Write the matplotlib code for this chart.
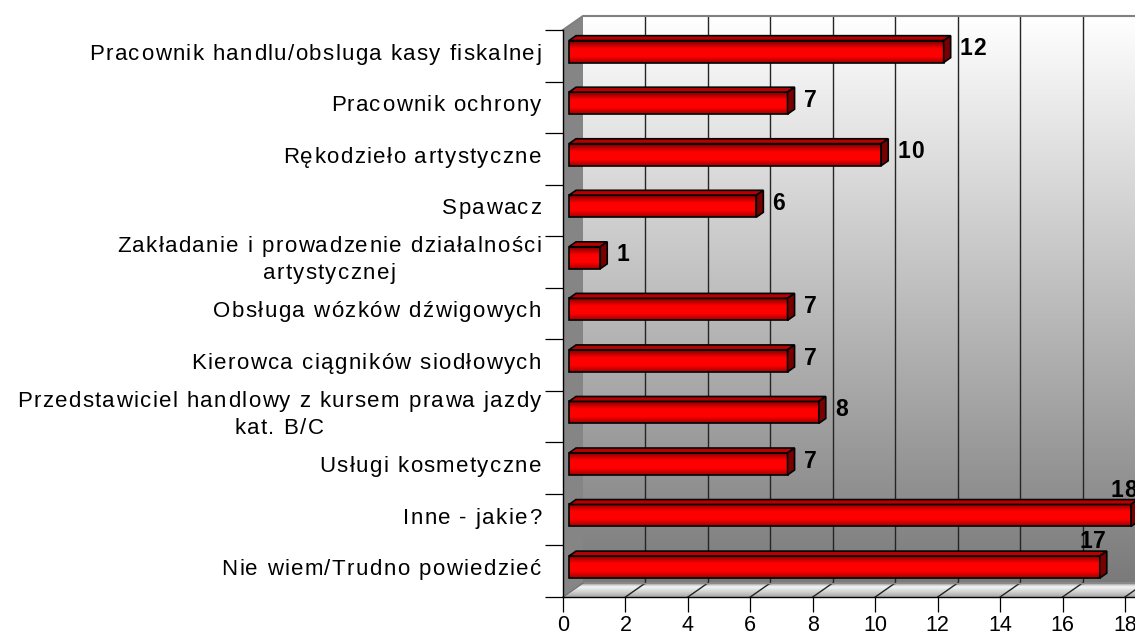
import numpy as np
import matplotlib
matplotlib.use('Agg')
import matplotlib.pyplot as plt
from matplotlib.colors import LinearSegmentedColormap
from matplotlib.patches import Polygon
from matplotlib.collections import PolyCollection
from matplotlib.transforms import offset_copy
from matplotlib.font_manager import FontProperties, findfont, get_font

FONT = 'Liberation Sans'
plt.rcParams['font.family'] = FONT

categories = [
    'Pracownik handlu/obsluga kasy fiskalnej',
    'Pracownik ochrony',
    'Rękodzieło artystyczne',
    'Spawacz',
    'Zakładanie i prowadzenie działalności\nartystycznej',
    'Obsługa wózków dźwigowych',
    'Kierowca ciągników siodłowych',
    'Przedstawiciel handlowy z kursem prawa jazdy\nkat. B/C',
    'Usługi kosmetyczne',
    'Inne - jakie?',
    'Nie wiem/Trudno powiedzieć',
]
values = [12, 7, 10, 6, 1, 7, 7, 8, 7, 18, 17]
xticks = list(range(0, 19, 2))

W, H, DPI = 1135, 639, 100
fig = plt.figure(figsize=(W / DPI, H / DPI), dpi=DPI)
fig.patch.set_facecolor('white')
ax = fig.add_axes([563 / W, 42 / H, 562 / W, 567 / H])
n = len(categories)
xmax = xticks[-1]
ax.set_xlim(0, xmax)
ax.set_ylim(n, 0)
ax.set_autoscale_on(False)
ax.patch.set_visible(False)

# pixel size of one data unit, used to turn the 3d depth into data offsets
ux = ax.bbox.width / xmax
uy = ax.bbox.height / n
dd = np.array([20 / ux, -14 / uy])


def shift(pts, f):
    return [(x + f * dd[0], y + f * dd[1]) for x, y in pts]


grad = np.linspace(0, 1, 256).reshape(-1, 1)

# back wall
wall_cmap = LinearSegmentedColormap.from_list('wall', ['#ffffff', '#7a7a7a'])
ax.imshow(grad, cmap=wall_cmap, extent=(dd[0], xmax + dd[0], n + dd[1], dd[1]),
          origin='upper', aspect='auto', interpolation='bilinear', zorder=0, clip_on=False)

# side wall
ax.add_patch(Polygon([(0, 0), (0, n), (dd[0], n + dd[1]), (dd[0], dd[1])],
                     closed=True, fc='#858585', ec='none', zorder=0.5, clip_on=False))

# floor, drawn as thin strips going from the back edge to the front edge
floor_cmap = LinearSegmentedColormap.from_list(
    'floor', [(0, '#9c9c9c'), (0.3, '#f4f4f4'), (0.65, '#d2d2d2'), (1, '#a8a8a8')])
steps = 16
strips, cols = [], []
for k in range(steps):
    t0, t1 = k / steps, (k + 1) / steps
    y0, y1 = n + dd[1] * (1 - t0), n + dd[1] * (1 - t1)
    strips.append([(dd[0] * (1 - t0), y0), (xmax + dd[0] * (1 - t0) + 1, y0),
                   (xmax + dd[0] * (1 - t1) + 1, y1), (dd[0] * (1 - t1), y1)])
    cols.append(floor_cmap((t0 + t1) / 2))
ax.add_collection(PolyCollection(strips, facecolors=cols, edgecolors=cols, lw=0.5,
                                 zorder=0.6, clip_on=False))

# grid lines on the back wall and across the floor
for k in xticks[1:]:
    ax.plot([k + dd[0]] * 2, [dd[1], n + dd[1]], color='#252525', lw=1, zorder=1, clip_on=False)
    ax.plot([k, k + dd[0]], [n, n + dd[1]], color='#252525', lw=1, zorder=1, clip_on=False)

# box outline
ax.plot([0, dd[0], xmax + dd[0]], [0, dd[1], dd[1]], color='#808080', lw=1.5, zorder=1, clip_on=False)
ax.plot([dd[0], xmax + dd[0]], [n + dd[1]] * 2, color='#8a8a8a', lw=1, zorder=1, clip_on=False)
ax.plot([0, dd[0]], [n, n + dd[1]], color='#707070', lw=1, zorder=1, clip_on=False)

# bars
bar_cmap = LinearSegmentedColormap.from_list(
    'bar', [(0, '#780000'), (0.35, '#ff0000'), (0.7, '#ff0000'), (1, '#a00000')])
h = 22 / uy
f1, f2 = 0.3, 0.65
for i, v in enumerate(values):
    c = i + 0.5
    top, bot = c - h / 2, c + h / 2
    ox, oy = f1 * dd[0], f1 * dd[1]
    ax.imshow(grad, cmap=bar_cmap, extent=(ox, v + ox, bot + oy, top + oy), origin='upper',
              aspect='auto', interpolation='bilinear', zorder=3, clip_on=False)
    ax.add_patch(Polygon(shift([(0, top), (v, top), (v, bot), (0, bot)], f1), closed=True,
                         fill=False, ec='black', lw=1.2, zorder=4, clip_on=False))
    ax.add_patch(Polygon(shift([(0, top), (v, top)], f1) + shift([(v, top), (0, top)], f2),
                         closed=True, fc='#b80000', ec='black', lw=1.2, zorder=4, clip_on=False))
    ax.add_patch(Polygon(shift([(v, top), (v, bot)], f1) + shift([(v, bot), (v, top)], f2),
                         closed=True, fc='#780000', ec='black', lw=1.2, zorder=4, clip_on=False))


def spaced_text(x, y, s, dx=0.0, dy=0.0, ha='left', size=16, weight='normal', gap=1.4, line_h=27):
    # letter-spaced text, placed glyph by glyph at a pixel offset from (x, y)
    font = get_font(findfont(FontProperties(family=FONT, weight=weight)))
    font.set_size(size, fig.dpi)
    cap = 0.716 * size * fig.dpi / 72
    lines = s.split('\n')
    adv = [[font.load_char(ord(ch)).linearHoriAdvance / 65536 for ch in line] for line in lines]
    widths = [sum(a) + gap * (len(a) - 1) for a in adv]
    block = max(widths)
    left = {'left': dx, 'center': dx - block / 2, 'right': dx - block}[ha]
    for j, (line, a, w) in enumerate(zip(lines, adv, widths)):
        pos = left + (block - w) / 2
        base = dy + ((len(lines) - 1) / 2 - j) * line_h - cap / 2
        for ch, step in zip(line, a):
            if ch != ' ':
                tr = offset_copy(ax.transData, fig=fig, x=pos, y=base, units='dots')
                ax.text(x, y, ch, transform=tr, ha='left', va='baseline', fontsize=size,
                        fontweight=weight, color='black', clip_on=False, zorder=5)
            pos += step + gap


for i, (name, v) in enumerate(zip(categories, values)):
    c = i + 0.5
    spaced_text(0, c, name, dx=-22, dy=4, ha='right')
    if v > 16:
        spaced_text(v, c, str(v), dx=-1, dy=31, ha='center', weight='bold', size=16.5, gap=0.8)
    else:
        spaced_text(v, c, str(v), dx=22, dy=8.7, ha='left', weight='bold', size=16.5, gap=0.8)

# axes
ax.set_xticks(xticks)
ax.set_xticklabels([str(t) for t in xticks])
ax.set_yticks(np.arange(n + 1))
ax.set_yticklabels([])
ax.tick_params(axis='x', direction='out', length=10.8, width=0.9, pad=2.5, labelsize=15.5, colors='black')
ax.tick_params(axis='y', direction='out', length=13, width=0.9, colors='black')
for side in ('top', 'right'):
    ax.spines[side].set_visible(False)
for side in ('left', 'bottom'):
    ax.spines[side].set_color('black')
    ax.spines[side].set_linewidth(1)
    ax.spines[side].set_zorder(2.5)
ax.spines['bottom'].set_bounds(0, xmax + 12 / ux)

fig.savefig('out.png', dpi=DPI)
